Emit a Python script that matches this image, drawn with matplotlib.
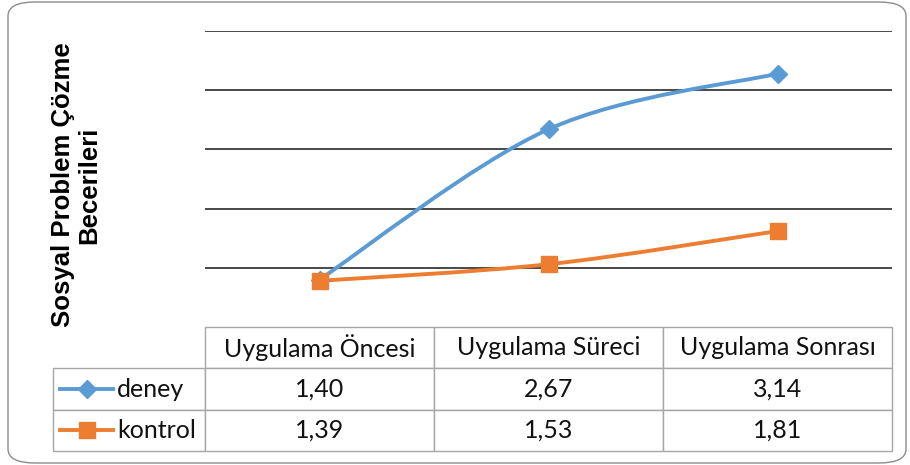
import matplotlib
matplotlib.use("Agg")
import matplotlib.pyplot as plt
from matplotlib.path import Path
from matplotlib.patches import PathPatch, FancyBboxPatch
from matplotlib.table import Table
from matplotlib.lines import Line2D

categories = ["Uygulama Öncesi", "Uygulama Süreci", "Uygulama Sonrası"]
deney = [1.40, 2.67, 3.14]
kontrol = [1.39, 1.53, 1.81]
series_names = ["deney", "kontrol"]

W, H = 910, 465
BLUE = "#5B9BD5"
ORANGE = "#ED7D31"
BORDER = "#A6A6A6"
TEXT_FONT = "Lato"
FS = 18
LW = 2.8


def smooth_path(xs, ys):
    # bezier segments like Excel's smoothed line
    pts = list(zip(xs, ys))
    n = len(pts)
    verts = [pts[0]]
    codes = [Path.MOVETO]
    for i in range(n - 1):
        p0 = pts[max(i - 1, 0)]
        p1 = pts[i]
        p2 = pts[i + 1]
        p3 = pts[min(i + 2, n - 1)]
        c1 = (p1[0] + (p2[0] - p0[0]) / 6, p1[1] + (p2[1] - p0[1]) / 6)
        c2 = (p2[0] - (p3[0] - p1[0]) / 6, p2[1] - (p3[1] - p1[1]) / 6)
        verts += [c1, c2, p2]
        codes += [Path.CURVE4] * 3
    return Path(verts, codes)


fig = plt.figure(figsize=(W / 100, H / 100), dpi=100)

# outer rounded frame
frame = FancyBboxPatch((8 / W, 2 / H), 898 / W, 461 / H,
                       boxstyle="round,pad=0,rounding_size=0.03",
                       transform=fig.transFigure, facecolor="white",
                       edgecolor="#8C8C8C", linewidth=1.0, zorder=-5)
fig.patches.append(frame)

# plot area in pixels: x 205..892, y 31..327
px0, px1, py0, py1 = 205, 892, 31, 327
ax = fig.add_axes([px0 / W, (H - py1) / H, (px1 - px0) / W, (py1 - py0) / H])
ax.set_facecolor("none")
ax.set_xlim(0, len(categories))
ax.set_ylim(1.0, 3.5)
ax.set_yticks([1.5, 2.0, 2.5, 3.0, 3.5])
ax.set_yticklabels([])
ax.set_xticks([])
ax.tick_params(left=False)
ax.grid(axis="y", color="#3A3A3A", linewidth=1.3)
for s in ax.spines.values():
    s.set_visible(False)

styles = [(deney, BLUE, "D", 9.5), (kontrol, ORANGE, "s", 12)]
xs = [i + 0.5 for i in range(len(categories))]
for vals, color, marker, ms in styles:
    ax.add_patch(PathPatch(smooth_path(xs, vals), fill=False, edgecolor=color,
                           linewidth=LW, zorder=3, clip_on=False))
    ax.plot(xs, vals, linestyle="none", marker=marker, markersize=ms,
            color=color, zorder=4, clip_on=False)

# data table below the plot
tx0, ty1 = 53, 451
label_w = px0 - tx0
col_w = (px1 - px0) / len(categories)
row_h = (ty1 - py1) / 3
plot_w, plot_h = px1 - px0, py1 - py0
tbl = Table(ax, bbox=[(tx0 - px0) / plot_w, -(ty1 - py1) / plot_h,
                      (px1 - tx0) / plot_w, (ty1 - py1) / plot_h])
for j, cat in enumerate(categories):
    tbl.add_cell(0, j + 1, width=col_w, height=row_h, text=cat, loc="center")
for i, vals in enumerate([deney, kontrol]):
    tbl.add_cell(i + 1, 0, width=label_w, height=row_h, text="", loc="left")
    for j, v in enumerate(vals):
        tbl.add_cell(i + 1, j + 1, width=col_w, height=row_h,
                     text=f"{v:.2f}".replace(".", ","), loc="center")
tbl.auto_set_font_size(False)
for cell in tbl.get_celld().values():
    cell.set_edgecolor(BORDER)
    cell.set_linewidth(1.0)
    cell.get_text().set_fontsize(FS)
    cell.get_text().set_fontfamily(TEXT_FONT)
    cell.get_text().set_color("#111111")
ax.add_table(tbl)

# legend keys inside the table
for i, (name, (vals, color, marker, ms)) in enumerate(zip(series_names, styles)):
    yc = H - (py1 + row_h * (i + 1.5))
    fig.add_artist(Line2D([60 / W, 113 / W], [yc / H, yc / H], color=color,
                          linewidth=LW, transform=fig.transFigure))
    fig.add_artist(Line2D([86.5 / W], [yc / H], marker=marker, markersize=ms,
                          color=color, linestyle="none", transform=fig.transFigure))
    fig.text(117 / W, yc / H, name, fontsize=FS, family=TEXT_FONT,
             color="#111111", ha="left", va="center")

# y axis title
fig.text(76 / W, (H - 185) / H, "Sosyal Problem Çözme\nBecerileri",
         rotation=90, ha="center", va="center", multialignment="center",
         fontsize=18.5, fontweight="bold", family="Liberation Sans",
         linespacing=1.1)

fig.savefig("out.png", dpi=100)
